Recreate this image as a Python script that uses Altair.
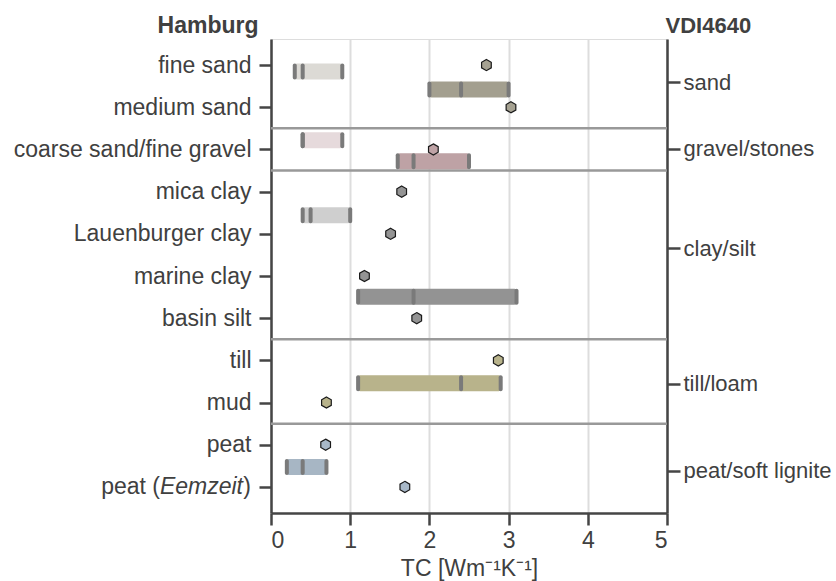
import json
import altair as alt
import pandas as pd

# ---------------- data ----------------
# Hamburg soil types (left axis), one row each, top to bottom
rows = ["fine sand", "medium sand", "coarse sand/fine gravel", "mica clay",
        "Lauenburger clay", "marine clay", "basin silt", "till", "mud",
        "peat", "peat (Eemzeit)"]
row_group = ["sand", "sand", "gravel", "clay", "clay", "clay", "clay",
             "till", "till", "peat", "peat"]
row_tc = [2.72, 3.03, 2.05, 1.65, 1.51, 1.18, 1.84, 2.87, 0.70, 0.69, 1.69]

# VDI4640 ranges (bars): min, recommended, max and their row position
bar_key = ["sand dry", "sand wet", "gravel dry", "gravel wet", "clay dry",
           "clay wet", "till wet", "peat wet"]
bar_pos = [0.15, 0.58, 1.78, 2.28, 3.56, 5.49, 7.54, 9.53]
bar_min = [0.3, 2.0, 0.4, 1.6, 0.4, 1.1, 1.1, 0.2]
bar_med = [0.4, 2.4, 0.4, 1.8, 0.5, 1.8, 2.4, 0.4]
bar_max = [0.9, 3.0, 0.9, 2.5, 1.0, 3.1, 2.9, 0.7]

# VDI4640 groups (right axis)
vdi_labels = ["sand", "gravel/stones", "clay/silt", "till/loam", "peat/soft lignite"]
vdi_pos = [0.5, 2.05, 4.36, 7.5, 9.52]

separators = [1.5, 2.5, 6.5, 8.5]
x_ticks = [0, 1, 2, 3, 4, 5]

# ---------------- styling ----------------
FONT = "Liberation Sans"
FS = 23
FS_R = 22
TXT = "#404040"
AX = "#454545"
bar_colors = {"sand dry": "#dcdad5", "sand wet": "#a39f8f",
              "gravel dry": "#e6dadc", "gravel wet": "#bea2a5",
              "clay dry": "#cfcfcf", "clay wet": "#939393",
              "till wet": "#b8b38b", "peat wet": "#a7b6c4"}
point_colors = {"sand": "#a6a292", "gravel": "#bfa3a6", "clay": "#949494",
                "till": "#b8b38b", "peat": "#a8b8c8"}

bars = pd.DataFrame({"key": bar_key, "pos": bar_pos, "lo": bar_min,
                     "med": bar_med, "hi": bar_max})
caps = pd.DataFrame({
    "pos": bar_pos * 3,
    "tc": bar_min + bar_med + bar_max,
})
pts = pd.DataFrame({"pos": list(range(len(rows))), "tc": row_tc, "group": row_group})
seps = pd.DataFrame({"pos": separators})
eem = pd.DataFrame({"pos": [len(rows) - 1]})
right = pd.DataFrame({"pos": vdi_pos})

left_lab = rows[:-1] + [""]
y_scale = alt.Scale(domain=[-0.5, len(rows) - 0.5], reverse=True, nice=False, zero=False)
x_scale = alt.Scale(domain=[0, 5], nice=False)

left_axis = alt.Axis(
    values=list(range(len(rows))),
    labelExpr=f"{json.dumps(left_lab)}[round(datum.value)]",
    orient="left", grid=False, tickSize=12, tickWidth=2.5, tickColor=AX,
    domainColor=AX, domainWidth=2.5, labelFontSize=FS, labelFont=FONT,
    labelColor=TXT, labelPadding=8, labelLimit=0, title="Hamburg", titleAngle=0,
    titleAlign="right", titleBaseline="alphabetic", titleX=-13, titleY=-7,
    titleFont=FONT, titleFontSize=FS, titleFontWeight="bold", titleColor=TXT,
)
right_axis = alt.Axis(
    values=vdi_pos,
    labelExpr=f"{json.dumps(vdi_labels)}[indexof({json.dumps(vdi_pos)}, datum.value)]",
    orient="right", grid=False, tickSize=13, tickWidth=2.5, tickColor=AX,
    domainColor=AX, domainWidth=2.5, labelFontSize=FS_R, labelFont=FONT,
    labelColor=TXT, labelPadding=3, labelLimit=0, title="VDI4640", titleAngle=0,
    titleAlign="left", titleBaseline="alphabetic", titleX=-2, titleY=-7,
    titleFont=FONT, titleFontSize=FS_R, titleFontWeight="bold", titleColor=TXT,
)
x_axis = alt.Axis(
    values=x_ticks, format="d", grid=True, gridColor="#dddddd", gridWidth=2,
    tickSize=12, tickWidth=2.5, tickColor=AX, domainColor=AX, domainWidth=2.5,
    labelFontSize=FS, labelFont=FONT, labelColor=TXT, labelPadding=4,
    title="TC [Wm⁻¹K⁻¹]", titleFont=FONT, titleFontSize=FS,
    titleFontWeight="normal", titleColor=TXT, titlePadding=5,
)

Y = alt.Y("pos:Q", scale=y_scale, axis=left_axis)

sep_layer = alt.Chart(seps).mark_rule(color="#999999", strokeWidth=2.5).encode(y=Y)

bar_layer = alt.Chart(bars).mark_bar(size=16, cornerRadius=2).encode(
    x=alt.X("lo:Q", scale=x_scale, axis=x_axis),
    x2="hi:Q",
    y=Y,
    color=alt.Color("key:N", legend=None,
                    scale=alt.Scale(domain=list(bar_colors.keys()),
                                    range=list(bar_colors.values()))),
)

cap_layer = alt.Chart(caps).mark_tick(
    orient="vertical", size=16, thickness=4, color="#7a7a7a", opacity=1,
    cornerRadius=2,
).encode(x=alt.X("tc:Q", scale=x_scale), y=Y)

hexagon = "M0,-1L0.866,-0.5L0.866,0.5L0,1L-0.866,0.5L-0.866,-0.5Z"
pt_layer = alt.Chart(pts).mark_point(
    shape=hexagon, size=125, filled=True, opacity=1, stroke="#1a1a1a",
    strokeWidth=1.2,
).encode(
    x=alt.X("tc:Q", scale=x_scale),
    y=Y,
    fill=alt.Fill("group:N", legend=None,
                  scale=alt.Scale(domain=list(point_colors.keys()),
                                  range=list(point_colors.values()))),
)

txt_kw = dict(baseline="middle", fontSize=FS, font=FONT, color=TXT, align="right")
eem1 = alt.Chart(eem).mark_text(text="peat (", **txt_kw).encode(x=alt.value(-111), y=Y)
eem2 = alt.Chart(eem).mark_text(text="Eemzeit", fontStyle="italic", **txt_kw).encode(x=alt.value(-28), y=Y)
eem3 = alt.Chart(eem).mark_text(text=")", **txt_kw).encode(x=alt.value(-20), y=Y)

main = alt.layer(sep_layer, bar_layer, cap_layer, pt_layer, eem1, eem2, eem3)

right_layer = alt.Chart(right).mark_rule(opacity=0).encode(
    y=alt.Y("pos:Q", scale=y_scale, axis=right_axis)
)

chart = alt.layer(main, right_layer).resolve_scale(y="independent").properties(
    width=396, height=474,
    autosize=alt.AutoSizeParams(type="none"),
    padding={"left": 271, "top": 39, "right": 169, "bottom": 68},
).configure_view(stroke=AX, strokeWidth=2.5).configure(background="white")

chart.save("out.html", embed_options={"renderer": "svg", "actions": False})
